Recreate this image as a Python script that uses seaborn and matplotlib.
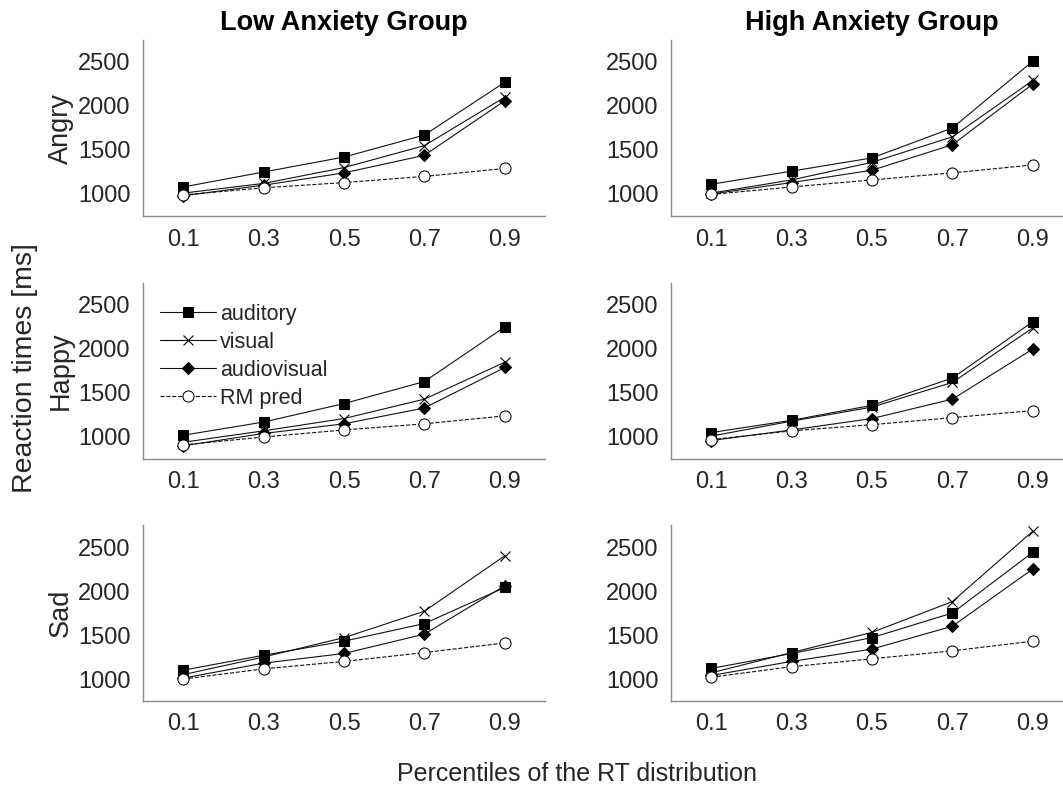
import pandas as pd
import matplotlib
matplotlib.use("Agg")
import matplotlib.pyplot as plt
import seaborn as sns

# Data
percentiles = [0.1, 0.3, 0.5, 0.7, 0.9]
emotions = ["Angry", "Happy", "Sad"]
groups = ["Low Anxiety Group", "High Anxiety Group"]

angry_low_aud = [1080, 1250, 1420, 1670, 2270]
angry_low_vis = [1010, 1120, 1300, 1550, 2100]
angry_low_av = [980, 1100, 1240, 1440, 2060]
angry_low_rm = [990, 1070, 1130, 1200, 1290]

angry_high_aud = [1110, 1260, 1410, 1750, 2510]
angry_high_vis = [1010, 1160, 1360, 1650, 2290]
angry_high_av = [1000, 1130, 1270, 1560, 2250]
angry_high_rm = [995, 1080, 1160, 1240, 1330]

happy_low_aud = [1020, 1170, 1380, 1630, 2250]
happy_low_vis = [940, 1070, 1210, 1430, 1850]
happy_low_av = [900, 1040, 1150, 1330, 1790]
happy_low_rm = [910, 1000, 1080, 1150, 1240]

happy_high_aud = [1050, 1190, 1360, 1670, 2310]
happy_high_vis = [1010, 1180, 1340, 1620, 2240]
happy_high_av = [960, 1080, 1210, 1430, 2000]
happy_high_rm = [970, 1070, 1140, 1220, 1300]

sad_low_aud = [1100, 1270, 1430, 1630, 2040]
sad_low_vis = [1050, 1250, 1470, 1770, 2400]
sad_low_av = [1010, 1180, 1290, 1510, 2060]
sad_low_rm = [1000, 1115, 1200, 1300, 1410]

sad_high_aud = [1120, 1290, 1470, 1750, 2440]
sad_high_vis = [1070, 1300, 1530, 1880, 2680]
sad_high_av = [1040, 1200, 1340, 1600, 2250]
sad_high_rm = [1020, 1140, 1230, 1320, 1430]

panels = {
    ("Angry", 0): [angry_low_aud, angry_low_vis, angry_low_av, angry_low_rm],
    ("Angry", 1): [angry_high_aud, angry_high_vis, angry_high_av, angry_high_rm],
    ("Happy", 0): [happy_low_aud, happy_low_vis, happy_low_av, happy_low_rm],
    ("Happy", 1): [happy_high_aud, happy_high_vis, happy_high_av, happy_high_rm],
    ("Sad", 0): [sad_low_aud, sad_low_vis, sad_low_av, sad_low_rm],
    ("Sad", 1): [sad_high_aud, sad_high_vis, sad_high_av, sad_high_rm],
}

series_names = ["auditory", "visual", "audiovisual", "RM pred"]
series_style = [
    dict(marker="s", markersize=6.5, markerfacecolor="black", linestyle="-"),
    dict(marker="x", markersize=6.5, markeredgewidth=0.8, linestyle="-"),
    dict(marker="D", markersize=6.0, markerfacecolor="black", linestyle="-"),
    dict(marker="o", markersize=8.0, markerfacecolor="white", linestyle="--"),
]

sns.set_theme(style="white")
plt.rcParams["font.family"] = ["Liberation Sans", "DejaVu Sans"]
text_col = "#262626"
spine_col = "#8c8c8c"

fig = plt.figure(figsize=(10.63, 7.87), dpi=100)

col_left = [143 / 1063, 671 / 1063]
col_width = 402 / 1063
row_bottom = [1 - 216 / 787, 1 - 459 / 787, 1 - 701 / 787]
row_height = 176 / 787

for r, emo in enumerate(emotions):
    for c in range(2):
        ax = fig.add_axes([col_left[c], row_bottom[r], col_width, row_height])
        vals = panels[(emo, c)]
        for name, y, st in zip(series_names, vals, series_style):
            df = pd.DataFrame({"p": percentiles, "rt": y})
            sns.lineplot(data=df, x="p", y="rt", ax=ax, color="#111111",
                         linewidth=0.8, markeredgecolor="black",
                         label=name, legend=False, **st)
        ax.set_xlim(0, 1)
        ax.set_ylim(750, 2750)
        ax.set_xticks(percentiles)
        ax.set_xticklabels([str(p) for p in percentiles])
        ax.set_yticks([1000, 1500, 2000, 2500])
        ax.tick_params(direction="in", length=4, width=0.8, color=spine_col,
                       labelsize=17, labelcolor=text_col, pad=9)
        for s in ["top", "right"]:
            ax.spines[s].set_visible(False)
        for s in ["left", "bottom"]:
            ax.spines[s].set_color(spine_col)
            ax.spines[s].set_linewidth(1.0)
        ax.set_xlabel("")
        if c == 0:
            ax.set_ylabel(emo, fontsize=19.5, color=text_col, labelpad=3)
        else:
            ax.set_ylabel("")
        if r == 0:
            ax.set_title(groups[c], fontsize=19.5, fontweight="bold",
                         color="black", pad=7)
        if r == 1 and c == 0:
            ax.legend(loc="upper left", frameon=False, fontsize=15.5,
                      handlelength=2.6, handletextpad=0.15, labelspacing=0.32,
                      borderaxespad=0.0, bbox_to_anchor=(0.022, 0.93))

fig.text(25 / 1063, 1 - 368 / 787, "Reaction times [ms]", rotation=90,
         ha="center", va="center", fontsize=20.5, color=text_col)
fig.text(577 / 1063, 1 - 774 / 787, "Percentiles of the RT distribution",
         ha="center", va="center", fontsize=18, color=text_col)

fig.savefig("out.png", dpi=100)
